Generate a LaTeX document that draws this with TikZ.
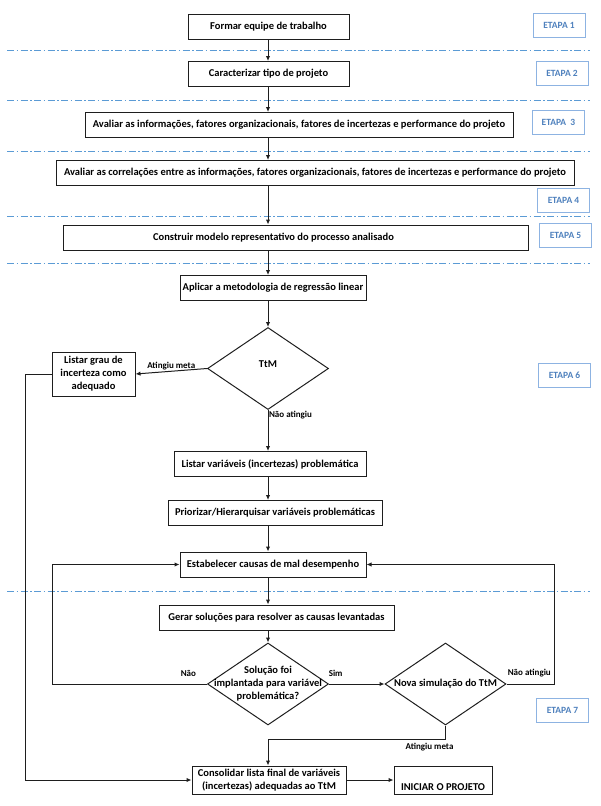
\documentclass[tikz,border=0pt]{standalone}
\usepackage{fontspec}
\setmainfont{Carlito}
\usetikzlibrary{arrows.meta,positioning,shapes.geometric}
\definecolor{etapaBlue}{RGB}{79,129,189}
\definecolor{etapaEdge}{RGB}{141,179,226}
\definecolor{sepBlue}{RGB}{91,155,213}
\definecolor{ink}{RGB}{30,30,30}

\begin{document}
\begin{tikzpicture}[x=1pt,y=-1pt,
  box/.style={draw=ink,line width=1pt,minimum height=25pt,inner sep=2pt,
              font=\bfseries\fontsize{10.5}{13}\selectfont,align=center},
  etapa/.style={draw=etapaEdge,line width=0.9pt,minimum width=52pt,minimum height=24pt,
                text=etapaBlue,font=\bfseries\fontsize{9.5}{11}\selectfont},
  decision/.style={diamond,draw=ink,line width=1pt,inner sep=0pt,
                   minimum width=121pt,minimum height=82pt},
  dtext/.style={font=\bfseries\fontsize{10.5}{13}\selectfont,align=center},
  lbl/.style={font=\bfseries\fontsize{9}{10}\selectfont,inner sep=0.5pt},
  arr/.style={-{Latex[length=5pt,width=4.5pt]},line width=1pt,draw=ink},
  stagesep/.style={sepBlue,line width=0.8pt,dash pattern=on 7pt off 2.5pt on 1.5pt off 2.5pt}]
  \useasboundingbox (0,0) rectangle (600,806);
  % stage separators
  \foreach \y in {50,100,151,216,263,591}
    \draw[stagesep] (7,\y) -- (590,\y);
  \coordinate (spine) at (268,0);
  \coordinate (gline) at (25,0);
  \coordinate (lloop) at (52,0);
  \coordinate (rloop) at (554,0);
  \coordinate (meet) at (0,739);
  % process boxes
  \node[box,minimum width=161pt] (b1) at (268.5,26.5) {Formar equipe de trabalho};
  \node[box,minimum width=161pt] (b2) at (268.5,74) {Caracterizar tipo de projeto};
  \node[box,minimum width=428pt] (b3) at (299,125) {Avaliar as informações, fatores organizacionais, fatores de incertezas e performance do projeto};
  \node[box,minimum width=518pt] (b4) at (315,173) {Avaliar as correlações entre as informações, fatores organizacionais, fatores de incertezas e performance do projeto};
  \node[box,minimum width=465pt,label={[dtext,xshift=-22pt]center:Construir modelo representativo do processo analisado}] (b5) at (295.5,237.5) {};
  \node[box,minimum width=186pt] (b6) at (273,288) {Aplicar a metodologia de regressão linear};
  \node[decision,label={[dtext,yshift=4pt]center:TtM}] (d1) at (268,368.5) {};
  \node[box,minimum width=83pt,minimum height=44pt] (grau) at (93.5,374) {Listar grau de\\incerteza como\\adequado};
  \node[box,minimum width=192pt] (lv) at (270,464) {Listar variáveis (incertezas) problemática};
  \node[box,minimum width=214pt] (pr) at (275,513) {Priorizar/Hierarquisar variáveis problemáticas};
  \node[box,minimum width=186pt] (es) at (273,564.5) {Estabelecer causas de mal desempenho};
  \node[box,minimum width=235pt] (ge) at (276.5,617.5) {Gerar soluções para resolver as causas levantadas};
  \node[decision,label={[dtext]center:{Solução foi\\implantada para variável\\problemática?}}] (d2) at (268,684) {};
  \node[decision,label={[dtext]center:Nova simulação do TtM}] (d3) at (445.5,684) {};
  \node[box,minimum width=154pt,minimum height=28pt] (con) at (269,780) {Consolidar lista final de variáveis\\(incertezas) adequadas ao TtM};
  \node[box,minimum width=98pt,minimum height=28pt,label={[dtext,yshift=-7pt]center:INICIAR O PROJETO}] (ini) at (443,780) {};
  % stages
  \node[etapa] (e1) at (559,25) {ETAPA 1};
  \node[etapa] (e2) at (562,73) {ETAPA 2};
  \node[etapa] (e3) at (558.5,122) {ETAPA~~3};
  \node[etapa] (e4) at (563.5,200) {ETAPA 4};
  \node[etapa] (e5) at (565.5,235) {ETAPA 5};
  \node[etapa] (e6) at (564.5,375) {ETAPA 6};
  \node[etapa] (e7) at (562.5,710.5) {ETAPA 7};
  % connectors
  \draw[arr] (b1.south -| spine) -- (b2.north -| spine);
  \draw[arr] (b2.south -| spine) -- (b3.north -| spine);
  \draw[arr] (b3.south -| spine) -- (b4.north -| spine);
  \draw[arr] (b4.south -| spine) -- (b5.north -| spine);
  \draw[arr] (b5.south -| spine) -- (b6.north -| spine);
  \draw[arr] (b6.south -| spine) -- (d1.north);
  \draw[arr] (d1.west) -- node[lbl,above]{Atingiu meta} (grau.east);
  \draw[arr] (d1.south) -- node[lbl,right,pos=0.12]{Não atingiu} (lv.north -| spine);
  \draw[arr] (lv.south -| spine) -- (pr.north -| spine);
  \draw[arr] (pr.south -| spine) -- (es.north -| spine);
  \draw[arr] (es.south -| spine) -- (ge.north -| spine);
  \draw[arr] (ge.south -| spine) -- (d2.north);
  \draw[arr] (d2.west) -- node[lbl,above=6pt,pos=0.12]{Não} (d2.west -| lloop) -- (es.west -| lloop) -- (es.west);
  \draw[arr] (d2.east) -- node[lbl,above=6pt,pos=0.12]{Sim} (d3.west);
  \draw[arr] (d3.east) -- node[lbl,above=6pt,pos=0.48]{Não atingiu} (d3.east -| rloop) -- (es.east -| rloop) -- (es.east);
  \draw[arr] (d3.south) -- (d3.south |- meet) -- node[lbl,below=3pt,pos=0.09]{Atingiu meta} (meet -| spine) -- (con.north -| spine);
  \draw[arr] (grau.west) -- (grau.west -| gline) -- (con.west -| gline) -- (con.west);
  \draw[arr] (con.east) -- (ini.west);
\end{tikzpicture}
\end{document}
